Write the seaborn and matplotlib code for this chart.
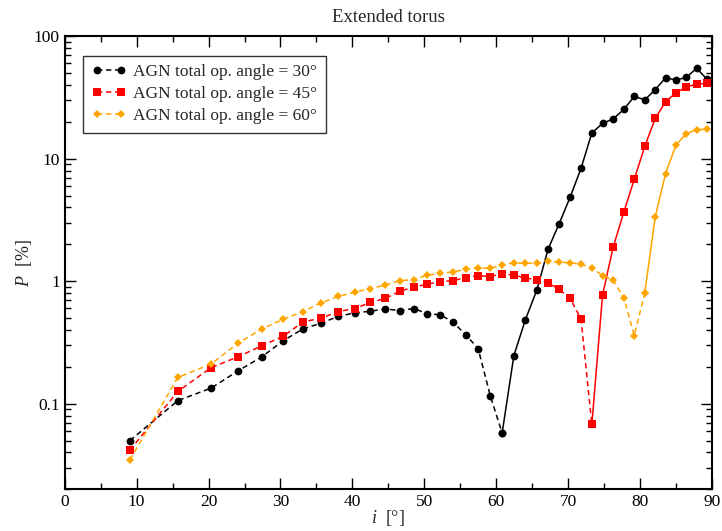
import numpy as np
import pandas as pd
import matplotlib
matplotlib.use("Agg")
import matplotlib.pyplot as plt
from matplotlib.lines import Line2D
from matplotlib.ticker import MultipleLocator, LogLocator, FixedLocator, FixedFormatter, NullFormatter
import seaborn as sns

# Inclination angles (degrees)
incl = [9.07, 15.74, 20.36, 24.15, 27.44, 30.40, 33.13, 35.66, 38.05, 40.32,
        42.48, 44.56, 46.57, 48.51, 50.39, 52.23, 54.02, 55.77, 57.48, 59.17,
        60.82, 62.45, 64.06, 65.64, 67.20, 68.75, 70.28, 71.79, 73.29, 74.78,
        76.26, 77.73, 79.19, 80.65, 82.10, 83.54, 84.98, 86.42, 87.85, 89.28]

# Polarisation degree P [%] for each AGN total opening angle
p_30 = [0.050, 0.106, 0.134, 0.186, 0.242, 0.327, 0.408, 0.454, 0.517, 0.551,
        0.568, 0.594, 0.575, 0.598, 0.544, 0.531, 0.462, 0.364, 0.282, 0.116,
        0.0576, 0.247, 0.486, 0.845, 1.82, 2.95, 4.86, 8.34, 16.2, 19.4,
        21.1, 25.2, 32.2, 30.2, 36.5, 45.7, 43.8, 46.0, 54.6, 44.6]
p_45 = [0.0418, 0.126, 0.197, 0.242, 0.298, 0.355, 0.465, 0.499, 0.565, 0.598,
        0.670, 0.722, 0.828, 0.893, 0.946, 0.989, 1.01, 1.07, 1.11, 1.09,
        1.15, 1.12, 1.06, 1.03, 0.97, 0.855, 0.722, 0.489, 0.0677, 0.774,
        1.90, 3.65, 6.79, 12.6, 21.3, 29.1, 34.5, 38.4, 40.6, 41.1]
p_60 = [0.0348, 0.164, 0.211, 0.313, 0.408, 0.489, 0.565, 0.666, 0.750, 0.813,
        0.871, 0.927, 1.01, 1.03, 1.12, 1.16, 1.19, 1.25, 1.28, 1.27,
        1.36, 1.41, 1.40, 1.40, 1.45, 1.43, 1.41, 1.38, 1.28, 1.11,
        1.02, 0.731, 0.360, 0.804, 3.34, 7.55, 12.9, 16.0, 17.2, 17.4]

labels = ["AGN total op. angle = 30°", "AGN total op. angle = 45°", "AGN total op. angle = 60°"]
# index where the curve switches from dashed to solid
switch_idx = [20, 28, 33]

colors = ["black", "#ff0000", "#ffa500"]
markers = ["o", "s", "D"]
msizes = [5.6, 5.2, 4.4]

sns.set_theme(style="ticks")
plt.rcParams["font.family"] = ["Liberation Serif", "DejaVu Serif"]
plt.rcParams["mathtext.fontset"] = "custom"
plt.rcParams["mathtext.rm"] = "Liberation Serif"
plt.rcParams["mathtext.it"] = "Liberation Serif:italic"

fig = plt.figure(figsize=(7.22, 5.31), dpi=100)
ax = fig.add_axes([0.0896, 0.0785, 0.8966, 0.8535])

handles = []
for lab, vals, k, col, mk, ms in zip(labels, [p_30, p_45, p_60], switch_idx, colors, markers, msizes):
    df = pd.DataFrame({"i": incl, "P": vals})
    dashed = df.iloc[:k + 1]
    solid = df.iloc[k:]
    sns.lineplot(data=dashed, x="i", y="P", ax=ax, color=col, lw=1.1, marker=mk,
                 markersize=ms, markeredgewidth=0, dashes=False, legend=False,
                 sort=False, estimator=None, linestyle=(0, (3.5, 2.4)))
    sns.lineplot(data=solid, x="i", y="P", ax=ax, color=col, lw=1.1, marker=mk,
                 markersize=ms, markeredgewidth=0, legend=False, sort=False,
                 estimator=None)
    handles.append(Line2D([], [], color=col, lw=1.1, linestyle=(0, (3.5, 2.4)),
                          marker=mk, markersize=ms, markeredgewidth=0, label=lab))

ax.set_yscale("log")
ax.set_xlim(0, 90)
ax.set_ylim(0.02, 100)

ax.xaxis.set_major_locator(MultipleLocator(10))
ax.xaxis.set_minor_locator(MultipleLocator(5))
ax.yaxis.set_major_locator(FixedLocator([0.1, 1, 10, 100]))
ax.yaxis.set_major_formatter(FixedFormatter(["0.1", "1", "10", "100"]))
ax.yaxis.set_minor_locator(LogLocator(base=10, subs=np.arange(2, 10)))
ax.yaxis.set_minor_formatter(NullFormatter())

ax.tick_params(which="both", direction="in", top=True, right=True, colors="black",
               labelsize=12.5, width=1.0)
ax.tick_params(which="major", length=8)
ax.tick_params(which="minor", length=4)
for sp in ax.spines.values():
    sp.set_linewidth(1.5)
    sp.set_color("black")

ax.set_xlabel(r"$i$  [°]", fontsize=13, labelpad=-1.5)
ax.set_ylabel(r"$P$  [%]", fontsize=13, labelpad=0)
ax.set_title("Extended torus", fontsize=13.5, pad=10)

leg = ax.legend(handles=handles, loc="upper left", bbox_to_anchor=(0.028, 0.957),
                numpoints=2, handlelength=2.0, handletextpad=0.4, fontsize=12.5,
                frameon=True, fancybox=False, borderpad=0.5, labelspacing=0.32,
                borderaxespad=0)
leg.get_frame().set_edgecolor("black")
leg.get_frame().set_linewidth(1.0)

fig.savefig("out.png", dpi=100)
